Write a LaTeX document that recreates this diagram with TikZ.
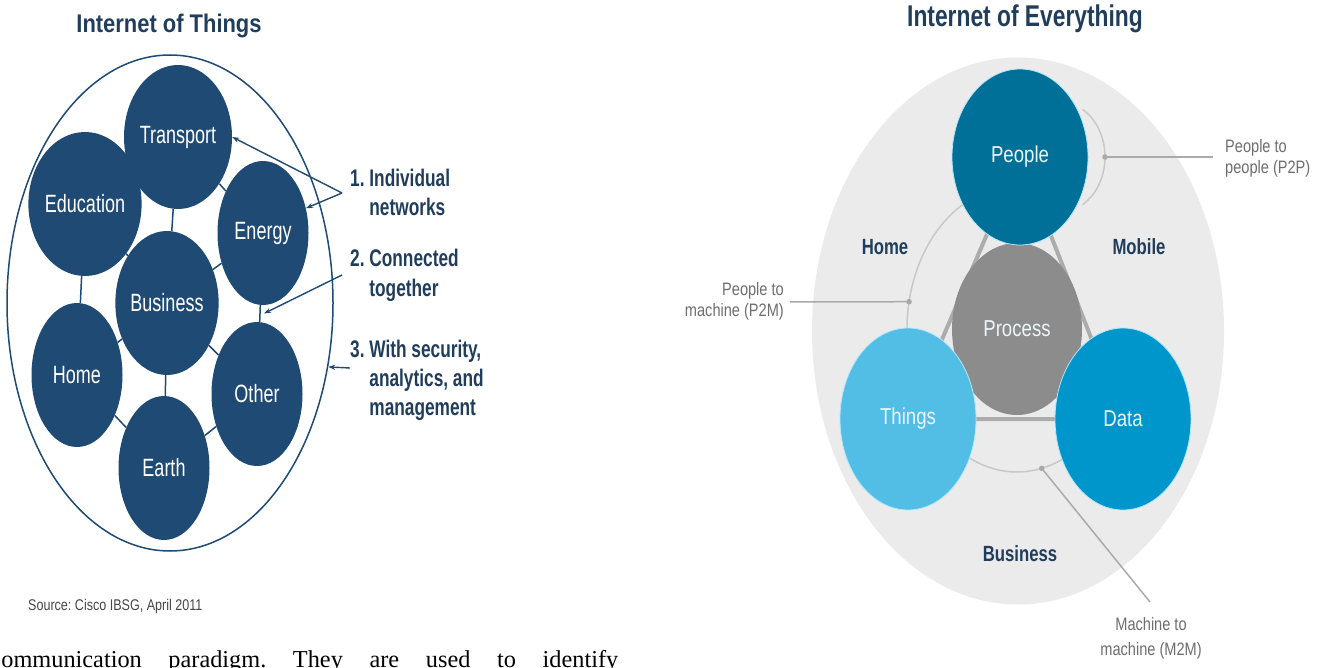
\documentclass[tikz,border=0pt]{standalone}
\usepackage{fontspec}
\setmainfont{Liberation Serif}
\newfontfamily\leftsans[FakeStretch=0.72]{Liberation Sans}
\newfontfamily\rightsans[FakeStretch=0.81]{Liberation Sans}
\newfontfamily\titlesans[FakeStretch=0.86]{Liberation Sans}
\newfontfamily\titlesansB[FakeStretch=0.76]{Liberation Sans}
\usetikzlibrary{shapes.geometric,arrows.meta,calc,backgrounds}

\definecolor{iotnavy}{RGB}{30,74,115}
\definecolor{inknavy}{RGB}{33,61,92}
\definecolor{ioeframe}{RGB}{235,235,235}
\definecolor{ioearc}{RGB}{200,200,200}
\definecolor{ioetri}{RGB}{172,172,172}
\definecolor{peoplec}{RGB}{0,112,152}
\definecolor{processc}{RGB}{140,140,140}
\definecolor{thingsc}{RGB}{82,190,230}
\definecolor{datac}{RGB}{0,150,204}
\definecolor{callgray}{RGB}{110,110,110}
\definecolor{labeltxt}{RGB}{236,246,250}

\tikzset{
  iotcirc/.style={ellipse, fill=iotnavy, minimum width=91pt, minimum height=144pt,
    inner sep=0pt, text=white, font=\leftsans\fontsize{25}{30}\selectfont},
  link/.style={draw=iotnavy, line width=1.5pt},
  callarrow/.style={draw=iotnavy, line width=1.4pt, -{Stealth[length=7pt,width=5pt]}},
  note/.style={anchor=base west, text=inknavy, inner sep=0pt,
    font=\leftsans\bfseries\fontsize{24}{29}\selectfont},
  ioecirc/.style={ellipse, inner sep=0pt, text=labeltxt,
    font=\rightsans\fontsize{23}{28}\selectfont, draw=white!70!cyan, line width=0.8pt},
  zone/.style={text=inknavy, font=\titlesansB\bfseries\fontsize{22}{26}\selectfont},
  ring/.style={draw=ioearc, line width=1.5pt},
  tri/.style={draw=ioetri, line width=4pt},
  callout/.style={draw=ioearc!85!black, line width=1.5pt},
  calltext/.style={text=callgray, inner sep=0pt, font=\rightsans\fontsize{18}{21}\selectfont},
}

\begin{document}
\frenchspacing
\begin{tikzpicture}[x=1pt,y=-1pt]
\useasboundingbox (0,0) rectangle (1327,668);

% ---------------- Internet of Things ----------------
\node[anchor=base, text=inknavy, font=\titlesans\bfseries\fontsize{25.5}{30}\selectfont]
  (iottitle) at (169,33) {Internet of Things};

\node[ellipse, draw=iotnavy, line width=1.5pt, minimum width=326pt, minimum height=496pt,
  inner sep=0pt] (frame) at (170,303) {};

\node[iotcirc] (tr) at (178,137) {Transport};
\node[iotcirc] (ed) at (85,204)  {Education};
\node[iotcirc] (en) at (263,233) {Energy};
\node[iotcirc] (bu) at (167,303) {Business};
\node[iotcirc] (ho) at (77,375)  {Home};
\node[iotcirc] (ot) at (257,394) {Other};
\node[iotcirc] (ea) at (164,468) {Earth};

\draw[link] (tr) -- (ed);
\draw[link] (tr) -- (en);
\draw[link] (tr) -- (bu);
\draw[link] (ed) -- (bu);
\draw[link] (ed) -- (ho);
\draw[link] (bu) -- (en);
\draw[link] (bu) -- (ho);
\draw[link] (bu) -- (ot);
\draw[link] (bu) -- (ea);
\draw[link] (ho) -- (ea);
\draw[link] (ea) -- (ot);
\draw[link] (en) -- node[coordinate, pos=0.5] (eo) {} (ot);

% numbered notes
\node[note] (n1) at (350,187) {\begin{tabular}[t]{@{}l@{ }l@{}}1.&Individual\\&networks\end{tabular}};
\node[note] (n2) at (350,267) {\begin{tabular}[t]{@{}l@{ }l@{}}2.&Connected\\&together\end{tabular}};
\node[note] (n3) at (350,357) {\begin{tabular}[t]{@{}l@{ }l@{}}3.&With security,\\&analytics, and\\&management\end{tabular}};

\coordinate (a1) at (342,193);
\coordinate (a2) at (342,275);
\coordinate (a3) at (350,368);
\draw[callarrow] (a1) -- (tr.east);
\draw[callarrow] (a1) -- (en.30);
\draw[callarrow] (a2) -- ($(eo)+(4,0)$);
\draw[callarrow] (a3) -- (frame.-22);

\node[anchor=base west, text=black!72, inner sep=0pt, font=\rightsans\fontsize{15.5}{18}\selectfont]
  (source) at (28,610) {Source: Cisco IBSG, April 2011};

% running text below the figure
\node[anchor=base west, inner sep=0pt, font=\fontsize{24.3}{29}\selectfont]
  (body) at (-15,667) {\makebox[633pt][s]{Communication paradigm. They are used to identify}};

% ---------------- Internet of Everything ----------------
\node[anchor=base, text=inknavy, font=\titlesansB\bfseries\fontsize{30}{36}\selectfont]
  (ioetitle) at (1025,27) {Internet of Everything};

\node[ioecirc, fill=processc, draw=none, minimum width=130pt, minimum height=172pt] (pr) at (1017,329) {Process};
\node[ioecirc, fill=peoplec, minimum width=136pt, minimum height=176pt] (pe) at (1020,157) {People};
\node[ioecirc, fill=thingsc, minimum width=136pt, minimum height=182pt] (th) at (908,419) {Things};
\node[ioecirc, fill=datac, minimum width=136pt, minimum height=182pt] (da) at (1123,419) {Data};

\begin{pgfonlayer}{background}
  \fill[white] (0,0) rectangle (1327,668);
  \node[ellipse, fill=ioeframe, minimum width=412pt, minimum height=547pt, inner sep=0pt]
    (ioeframe) at (1018,331) {};
  % rings linking the three outer circles
  \draw[ring] ($(pr.center)+(245:110 and 143)$) arc[start angle=245, end angle=170, x radius=110, y radius=143];
  \draw[ring] ($(pr.center)+(120:110 and 143)$) arc[start angle=120, end angle=60, x radius=110, y radius=143];
  \draw[ring] ($(pe.center)+(40,0)+(-60:45 and 55)$) arc[start angle=-60, end angle=60, x radius=45, y radius=55];
  \draw[tri] (pe.center) -- (th.center) -- (da.center) -- cycle;
\end{pgfonlayer}

\node[zone] (zhome) at (885,247) {Home};
\node[zone] (zmob) at (1139,247) {Mobile};
\node[zone] (zbus) at (1020,554) {Business};

% call-outs
\coordinate (p2pdot) at ($(pe.center)+(85,0)$);
\coordinate (p2pend) at (1213,157);
\coordinate (p2mdot) at ($(pr.center)+(191:110 and 143)$);
\coordinate (p2mend) at (790,302);
\coordinate (m2mdot) at ($(pr.center)+(77:110 and 143)$);
\coordinate (m2mend) at (1150,602);

\begin{pgfonlayer}{background}
  \draw[callout] (p2pdot) -- (p2pend);
  \draw[callout] (p2mdot) -- (p2mend);
  \draw[callout] (m2mdot) -- (m2mend);
  \fill[ioearc!85!black] (p2pdot) circle (2.8pt) (p2mdot) circle (2.8pt) (m2mdot) circle (2.8pt);
\end{pgfonlayer}

\node[calltext, anchor=west, align=left] (p2ptext) at (1225,158) {People to\\people (P2P)};
\node[calltext, anchor=east, align=right] (p2mtext) at (784,301) {People to\\machine (P2M)};
\node[calltext, anchor=north, align=center, font=\rightsans\fontsize{18}{25}\selectfont]
  (m2mtext) at (1151,617) {Machine to\\machine (M2M)};
\end{tikzpicture}
\end{document}
